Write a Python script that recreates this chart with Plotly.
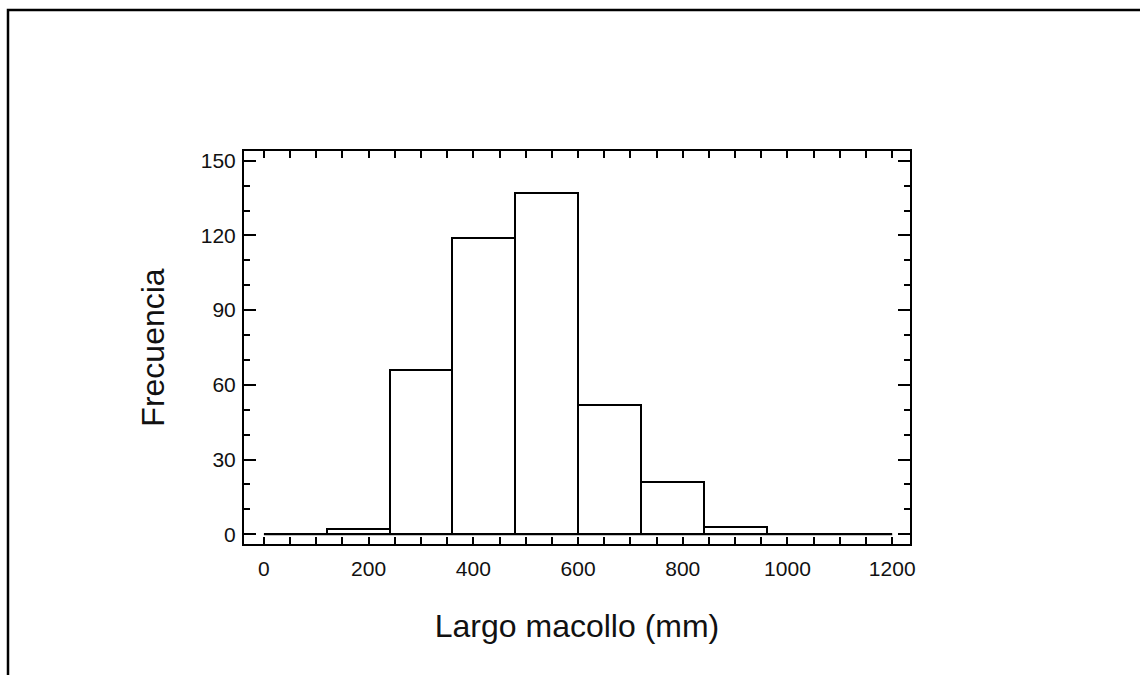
import plotly.graph_objects as go

# ---- data ----
bin_starts = [0, 120, 240, 360, 480, 600, 720, 840, 960, 1080]
bin_width = 120
counts = [0, 2, 66, 119, 137, 52, 21, 3, 0, 0]

x_tick_vals = [0, 200, 400, 600, 800, 1000, 1200]
x_tick_text = ["0", "200", "400", "600", "800", "1000", "1200"]
y_tick_vals = [0, 30, 60, 90, 120, 150]
y_tick_text = ["0", "30", "60", "90", "120", "150"]

x_title = "Largo macollo (mm)"
y_title = "Frecuencia"

FONT = "Liberation Sans, Arial, sans-serif"

W, H = 1140, 675
L, R, T, B = 244, 230, 151, 131
pw, ph = W - L - R, H - T - B

fig = go.Figure()

fig.add_trace(go.Bar(
    x=bin_starts, y=counts, width=[bin_width] * len(bin_starts), offset=0,
    marker=dict(color="white", line=dict(color="black", width=2)),
    showlegend=False, hoverinfo="x+y",
))

# zero-count baseline spanning all bins
fig.add_trace(go.Scatter(
    x=[bin_starts[0], bin_starts[-1] + bin_width], y=[0, 0],
    mode="lines", line=dict(color="black", width=2),
    showlegend=False, hoverinfo="skip",
))

axis_common = dict(
    showline=True, linecolor="black", linewidth=2, mirror="ticks",
    ticks="inside", tickcolor="black", tickwidth=2,
    showgrid=False, zeroline=False,
    tickfont=dict(family=FONT, size=21, color="#111111"),
)

fig.update_xaxes(
    **axis_common,
    range=[-38, 1234],
    tickvals=x_tick_vals, ticktext=x_tick_text, ticklen=7,
    minor=dict(dtick=50, ticks="inside", ticklen=7, tickwidth=2, tickcolor="black", showgrid=False),
    ticklabelstandoff=5,
    title=dict(text=x_title, font=dict(family=FONT, size=32, color="#111111"), standoff=35),
)
fig.update_yaxes(
    **axis_common,
    range=[-3.9, 153.9],
    tickvals=y_tick_vals, ticktext=y_tick_text, ticklen=12,
    minor=dict(dtick=10, ticks="inside", ticklen=6, tickwidth=2, tickcolor="black", showgrid=False),
    ticklabelstandoff=2,
    title=dict(text=y_title, font=dict(family=FONT, size=32, color="#111111"), standoff=27),
)

# outer frame (only top and left edges visible in the reference)
fx0 = (8 - L) / pw
fy1 = (H - B - 10) / ph
fx1 = (W + 30 - L) / pw
fy0 = (H - B - (H + 30)) / ph
fig.add_shape(type="rect", xref="paper", yref="paper",
              x0=fx0, x1=fx1, y0=fy0, y1=fy1,
              line=dict(color="black", width=2.5), fillcolor="rgba(0,0,0,0)", layer="below")

fig.update_layout(
    width=W, height=H,
    margin=dict(l=L, r=R, t=T, b=B),
    paper_bgcolor="white", plot_bgcolor="white",
    bargap=0,
    font=dict(family=FONT, color="black"),
)

fig.write_html("out.html")
